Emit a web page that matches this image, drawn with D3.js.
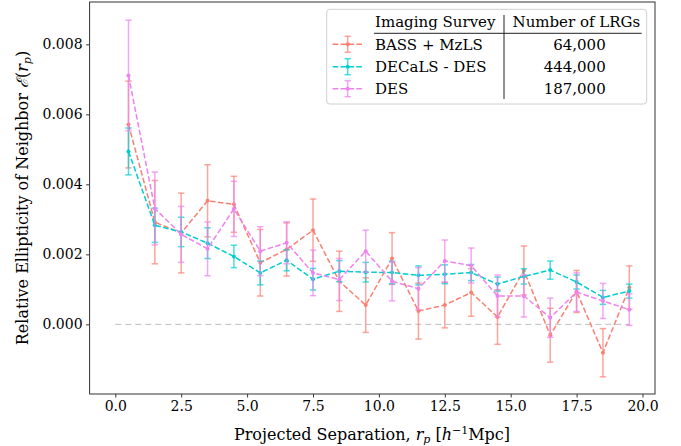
<!DOCTYPE html>
<html><head><meta charset="utf-8">
<script src="https://cdn.jsdelivr.net/npm/d3@7"></script>
<style>body{margin:0;background:#fff}svg{display:block}svg text{font-family:"DejaVu Serif",serif !important;fill:#000}</style>
</head><body>
<script>
const rp = [0.5,1.5,2.5,3.5,4.5,5.5,6.5,7.5,8.5,9.5,10.5,11.5,12.5,13.5,14.5,15.5,16.5,17.5,18.5,19.5];
const bassVals = [0.00571,0.00292,0.00261,0.00353,0.00343,0.00176,0.00214,0.00269,0.00123,0.00055,0.00188,0.00038,0.00055,0.00091,0.00021,0.00154,-0.00031,0.00094,-0.00081,0.00105];
const bassErr  = [0.00124,0.00119,0.00114,0.00103,0.00080,0.00095,0.00076,0.00089,0.00086,0.00078,0.00074,0.00080,0.00065,0.00068,0.00078,0.00070,0.00077,0.00060,0.00069,0.00062];
const decalsVals = [0.00494,0.00283,0.00264,0.00232,0.00194,0.00147,0.00183,0.00129,0.00152,0.00149,0.00148,0.00140,0.00143,0.00148,0.00115,0.00137,0.00155,0.00121,0.00077,0.00095];
const decalsErr  = [0.00067,0.00049,0.00042,0.00044,0.00032,0.00034,0.00030,0.00031,0.00030,0.00028,0.00032,0.00027,0.00027,0.00023,0.00020,0.00022,0.00026,0.00020,0.00020,0.00020];
const desVals = [0.00711,0.00331,0.00257,0.00216,0.00330,0.00209,0.00233,0.00147,0.00128,0.00209,0.00123,0.00102,0.00181,0.00168,0.00081,0.00081,0.00019,0.00092,0.00067,0.00042];
const desErr  = [0.00158,0.00104,0.00080,0.00077,0.00079,0.00070,0.00060,0.00065,0.00060,0.00060,0.00056,0.00060,0.00060,0.00050,0.00060,0.00060,0.00056,0.00055,0.00050,0.00045];
const surveyNames = ["BASS + MzLS","DECaLS - DES","DES"];
const lrgCounts = ["64,000","444,000","187,000"];
const colors = ["#fa8072","#00ced1","#ee82ee"];
const xTicks = [0,2.5,5,7.5,10,12.5,15,17.5,20];
const xTickLabels = ["0.0","2.5","5.0","7.5","10.0","12.5","15.0","17.5","20.0"];
const yTicks = [0,0.002,0.004,0.006,0.008];
const yTickLabels = ["0.000","0.002","0.004","0.006","0.008"];
const zeroLineX = [0,19.5];

const W=681,H=446;
const FF='"DejaVu Serif", serif';
const svg=d3.select("body").append("svg").attr("width",W).attr("height",H).attr("font-family",FF);
const x=d3.scaleLinear().domain([-0.975,20.475]).range([89.6,655]);
const y=d3.scaleLinear().domain([-0.00199,0.00921]).range([394,2]);

svg.append("line").attr("x1",x(zeroLineX[0])).attr("x2",x(zeroLineX[1])).attr("y1",y(0)).attr("y2",y(0))
  .attr("stroke","#bdbdbd").attr("stroke-width",1).attr("stroke-dasharray","6,4");

const series=[
  {vals:bassVals,err:bassErr,c:colors[0]},
  {vals:decalsVals,err:decalsErr,c:colors[1]},
  {vals:desVals,err:desErr,c:colors[2]}
];
const line=d3.line().x((d,i)=>x(rp[i])).y(d=>y(d));
series.forEach(s=>{
  const g=svg.append("g");
  s.vals.forEach((v,i)=>{
    const cx=x(rp[i]), y1=y(v+s.err[i]), y2=y(v-s.err[i]);
    const eg=g.append("g").attr("stroke",s.c).attr("stroke-opacity",0.7).attr("stroke-width",1.5);
    eg.append("line").attr("x1",cx).attr("x2",cx).attr("y1",y1).attr("y2",y2);
    eg.append("line").attr("x1",cx-3.2).attr("x2",cx+3.2).attr("y1",y1).attr("y2",y1);
    eg.append("line").attr("x1",cx-3.2).attr("x2",cx+3.2).attr("y1",y2).attr("y2",y2);
  });
  g.append("path").attr("d",line(s.vals)).attr("fill","none").attr("stroke",s.c).attr("stroke-width",1.5).attr("stroke-dasharray","5.5,2.4");
  g.selectAll("circle").data(s.vals).enter().append("circle").attr("cx",(d,i)=>x(rp[i])).attr("cy",d=>y(d)).attr("r",2).attr("fill",s.c);
});

const xAxis=d3.axisBottom(x).tickValues(xTicks).tickFormat((d,i)=>xTickLabels[i]).tickSize(3.5).tickPadding(3.5);
const yAxis=d3.axisLeft(y).tickValues(yTicks).tickFormat((d,i)=>yTickLabels[i]).tickSize(3.5).tickPadding(3.5);
const gx=svg.append("g").attr("transform","translate(0,394)").call(xAxis);
const gy=svg.append("g").attr("transform","translate(89.6,0)").call(yAxis);
[gx,gy].forEach(g=>{g.attr("font-family",FF).attr("font-size",14);g.select(".domain").remove();g.selectAll("text").attr("fill","#000");g.selectAll("line").attr("stroke","#000").attr("stroke-width",0.8);});
svg.append("rect").attr("x",89.6).attr("y",2).attr("width",655-89.6).attr("height",392).attr("fill","none").attr("stroke","#333").attr("stroke-width",1);

const xl=svg.append("text").attr("x",372).attr("y",440).attr("text-anchor","middle").attr("font-size",16);
xl.append("tspan").text("Projected Separation, ");
xl.append("tspan").attr("font-style","italic").text("r");
xl.append("tspan").attr("font-style","italic").attr("font-size",11).attr("dy",3).text("p");
xl.append("tspan").attr("dy",-3).text(" [");
xl.append("tspan").attr("font-style","italic").text("h");
xl.append("tspan").attr("font-size",11).attr("dy",-6).text("−1");
xl.append("tspan").attr("dy",6).text("Mpc]");

const yl=svg.append("text").attr("transform","translate(28,198) rotate(-90)").attr("text-anchor","middle").attr("font-size",16);
yl.append("tspan").text("Relative Ellipticity of Neighbor ");
yl.append("tspan").attr("font-style","italic").text("ℰ");
yl.append("tspan").text("(");
yl.append("tspan").attr("font-style","italic").text("r");
yl.append("tspan").attr("font-style","italic").attr("font-size",11).attr("dy",3).text("p");
yl.append("tspan").attr("dy",-3).text(")");

const lg=svg.append("g").attr("font-family",FF).attr("font-size",15);
lg.append("rect").attr("x",326.7).attr("y",9.3).attr("width",320).attr("height",94.7).attr("rx",3)
  .attr("fill","#fff").attr("fill-opacity",0.8).attr("stroke","#d0d0d0").attr("stroke-width",1);
lg.append("text").attr("x",375).attr("y",27).text("Imaging Survey");
lg.append("text").attr("x",512.5).attr("y",27).text("Number of LRGs");
lg.append("line").attr("x1",374).attr("x2",641.7).attr("y1",33.3).attr("y2",33.3).attr("stroke","#222").attr("stroke-width",1);
lg.append("line").attr("x1",504).attr("x2",504).attr("y1",15).attr("y2",99).attr("stroke","#222").attr("stroke-width",1);
const rowY=[44.3,66.7,88.7];
surveyNames.forEach((n,i)=>{
  const cy=rowY[i], c=colors[i];
  lg.append("line").attr("x1",332.7).attr("x2",362.7).attr("y1",cy).attr("y2",cy).attr("stroke",c).attr("stroke-width",1.5).attr("stroke-dasharray","5.5,2.4");
  const eg=lg.append("g").attr("stroke",c).attr("stroke-opacity",0.7).attr("stroke-width",1.5);
  eg.append("line").attr("x1",347.7).attr("x2",347.7).attr("y1",cy-8).attr("y2",cy+8);
  eg.append("line").attr("x1",344.5).attr("x2",350.9).attr("y1",cy-8).attr("y2",cy-8);
  eg.append("line").attr("x1",344.5).attr("x2",350.9).attr("y1",cy+8).attr("y2",cy+8);
  lg.append("circle").attr("cx",347.7).attr("cy",cy).attr("r",2).attr("fill",c);
  lg.append("text").attr("x",375).attr("y",cy+5.5).text(n);
  lg.append("text").attr("x",605.7).attr("y",cy+5.5).attr("text-anchor","end").text(lrgCounts[i]);
});
</script>
</body></html>
